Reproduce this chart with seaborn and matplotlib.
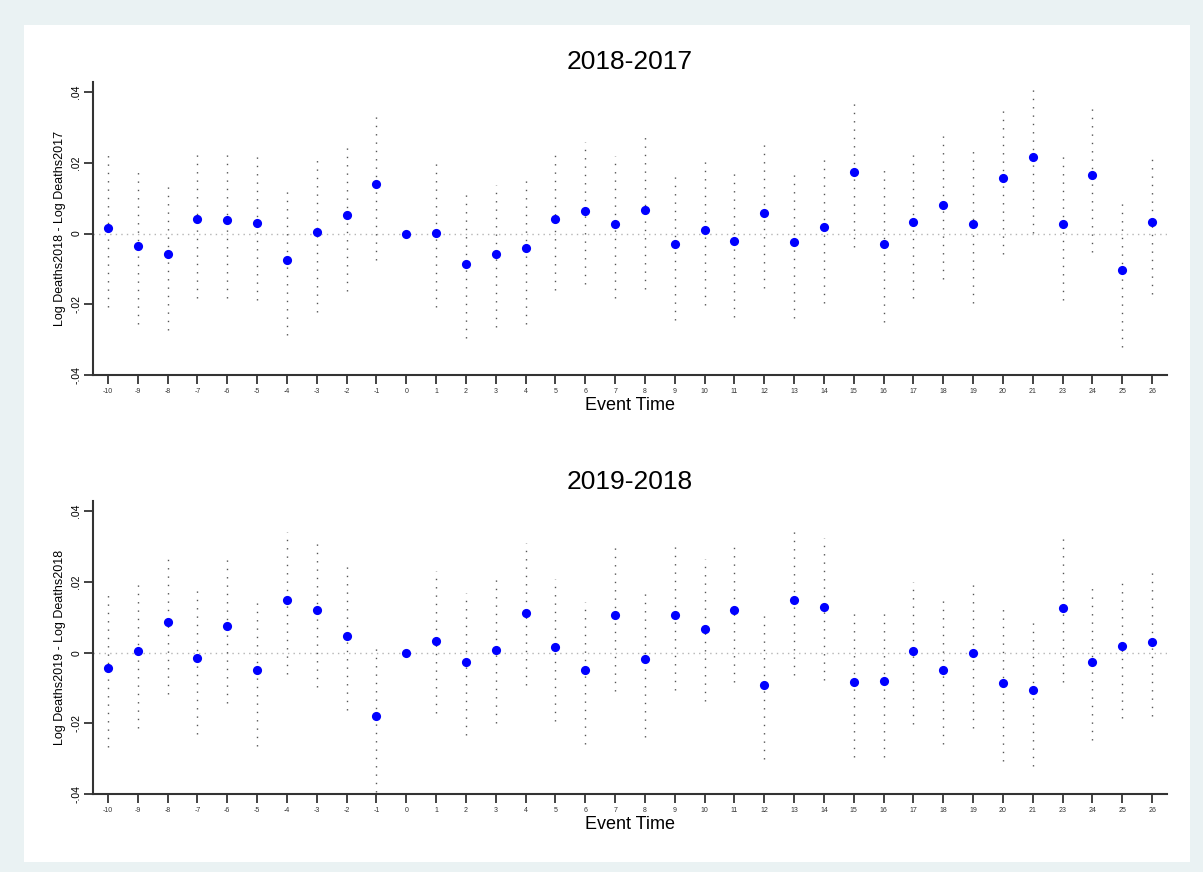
import numpy as np
import pandas as pd
import matplotlib
matplotlib.use("Agg")
import matplotlib.pyplot as plt
from matplotlib.patches import Rectangle
import seaborn as sns

# ----------- Data -----------
event_time = ["-10", "-9", "-8", "-7", "-6", "-5", "-4", "-3", "-2", "-1", "0", "1", "2",
              "3", "4", "5", "6", "7", "8", "9", "10", "11", "12", "13", "14", "15", "16",
              "17", "18", "19", "20", "21", "23", "24", "25", "26"]

coef_2018 = [0.0016, -0.0034, -0.0058, 0.0040, 0.0039, 0.0029, -0.0075, 0.0005, 0.0053, 0.0141,
             0.0, 0.0002, -0.0087, -0.0059, -0.0041, 0.0042, 0.0063, 0.0027, 0.0066, -0.0029,
             0.0009, -0.0020, 0.0057, -0.0024, 0.0019, 0.0173, -0.0030, 0.0032, 0.0081, 0.0027,
             0.0157, 0.0217, 0.0027, 0.0165, -0.0103, 0.0033]
hi_2018 = [0.0234, 0.0184, 0.0146, 0.0241, 0.0241, 0.0234, 0.0135, 0.0220, 0.0258, 0.0347,
           np.nan, 0.0212, 0.0124, 0.0138, 0.0165, 0.0239, 0.0259, 0.0220, 0.0284, 0.0175,
           0.0218, 0.0185, 0.0265, 0.0182, 0.0225, 0.0383, 0.0190, 0.0237, 0.0275, 0.0246,
           0.0364, 0.0424, 0.0232, 0.0371, 0.0100, 0.0229]
lo_2018 = [-0.0208, -0.0256, -0.0273, -0.0181, -0.0181, -0.0188, -0.0287, -0.0221, -0.0162, -0.0075,
           np.nan, -0.0209, -0.0296, -0.0263, -0.0256, -0.0161, -0.0142, -0.0182, -0.0158, -0.0244,
           -0.0202, -0.0235, -0.0155, -0.0240, -0.0195, -0.0037, -0.0251, -0.0182, -0.0128, -0.0195,
           -0.0059, 0.0001, -0.0188, -0.0052, -0.0320, -0.0172]

coef_2019 = [-0.0044, 0.0006, 0.0088, -0.0014, 0.0075, -0.0050, 0.0148, 0.0120, 0.0048, -0.0180,
             0.0, 0.0032, -0.0026, 0.0008, 0.0113, 0.0016, -0.0050, 0.0108, -0.0019, 0.0106,
             0.0068, 0.0120, -0.0092, 0.0149, 0.0129, -0.0084, -0.0080, 0.0006, -0.0049, 0.0000,
             -0.0087, -0.0106, 0.0125, -0.0026, 0.0019, 0.0030]
hi_2019 = [0.0175, 0.0208, 0.0283, 0.0190, 0.0281, 0.0156, 0.0341, 0.0322, 0.0259, 0.0028,
           np.nan, 0.0231, 0.0168, 0.0220, 0.0309, 0.0208, 0.0142, 0.0312, 0.0182, 0.0314,
           0.0264, 0.0317, 0.0115, 0.0359, 0.0325, 0.0125, 0.0128, 0.0199, 0.0161, 0.0208,
           0.0133, 0.0100, 0.0338, 0.0192, 0.0213, 0.0239]
lo_2019 = [-0.0266, -0.0212, -0.0118, -0.0230, -0.0142, -0.0264, -0.0060, -0.0096, -0.0162, -0.0393,
           np.nan, -0.0170, -0.0233, -0.0200, -0.0092, -0.0192, -0.0258, -0.0109, -0.0238, -0.0106,
           -0.0138, -0.0084, -0.0302, -0.0062, -0.0077, -0.0294, -0.0294, -0.0202, -0.0258, -0.0212,
           -0.0307, -0.0321, -0.0084, -0.0247, -0.0186, -0.0178]

panels = [
    ("2018-2017", "Log Deaths2018 - Log Deaths2017", coef_2018, lo_2018, hi_2018),
    ("2019-2018", "Log Deaths2019 - Log Deaths2018", coef_2019, lo_2019, hi_2019),
]

y_ticks = [-0.04, -0.02, 0, 0.02, 0.04]
y_tick_labels = ["-.04", "-.02", "0", ".02", ".04"]

sns.set_theme(style="white")
plt.rcParams["font.family"] = ["Liberation Sans", "DejaVu Sans"]
plt.rcParams["text.color"] = "black"
plt.rcParams["axes.labelcolor"] = "black"

fig = plt.figure(figsize=(12.03, 8.72), dpi=100, facecolor="#eaf2f3")
# white plot region inside the light frame
fig.patches.append(Rectangle((0.0200, 0.0115), 0.9693, 0.9599, transform=fig.transFigure,
                             facecolor="white", edgecolor="none", zorder=-10))

axes_pos = [[0.0773, 0.5700, 0.8928, 0.3360],
            [0.0773, 0.0894, 0.8928, 0.3360]]

for pos, (title, ylab, coef, lo, hi) in zip(axes_pos, panels):
    ax = fig.add_axes(pos)
    ax.set_facecolor("none")
    df = pd.DataFrame({"event": event_time, "coef": coef, "lo": lo, "hi": hi})
    x = np.arange(len(df))

    ax.axhline(0, color="#b5b5b5", linestyle=(0, (1, 3)), linewidth=1.0, zorder=1)
    ax.vlines(x, df["lo"], df["hi"], colors="#555555", linestyles=(0, (1, 5)),
              linewidth=1.0, zorder=2)
    sns.stripplot(data=df, x="event", y="coef", order=event_time, jitter=False,
                  color="#0000ff", size=6.6, linewidth=0, ax=ax, zorder=3)

    ax.set_ylim(-0.04, 0.0429)
    ax.set_xlim(-0.5, len(df) - 0.5)
    ax.set_yticks(y_ticks)
    ax.set_yticklabels(y_tick_labels, rotation=90, va="center", fontsize=7.5)
    ax.tick_params(axis="x", labelsize=5, length=6.5, width=1.2, color="#222222",
                   labelcolor="#333333", pad=3)
    ax.tick_params(axis="y", length=6.5, width=1.2, color="#222222", labelcolor="black", pad=2)
    ax.tick_params(left=True, bottom=True)

    for side in ["top", "right"]:
        ax.spines[side].set_visible(False)
    for side in ["left", "bottom"]:
        ax.spines[side].set_color("#333333")
        ax.spines[side].set_linewidth(1.5)

    ax.set_title(title, fontsize=19, pad=9, color="black")
    ax.set_xlabel("Event Time", fontsize=13, labelpad=1)
    ax.set_ylabel(ylab, fontsize=9, labelpad=4)

fig.savefig("out.png", dpi=100, facecolor=fig.get_facecolor())
